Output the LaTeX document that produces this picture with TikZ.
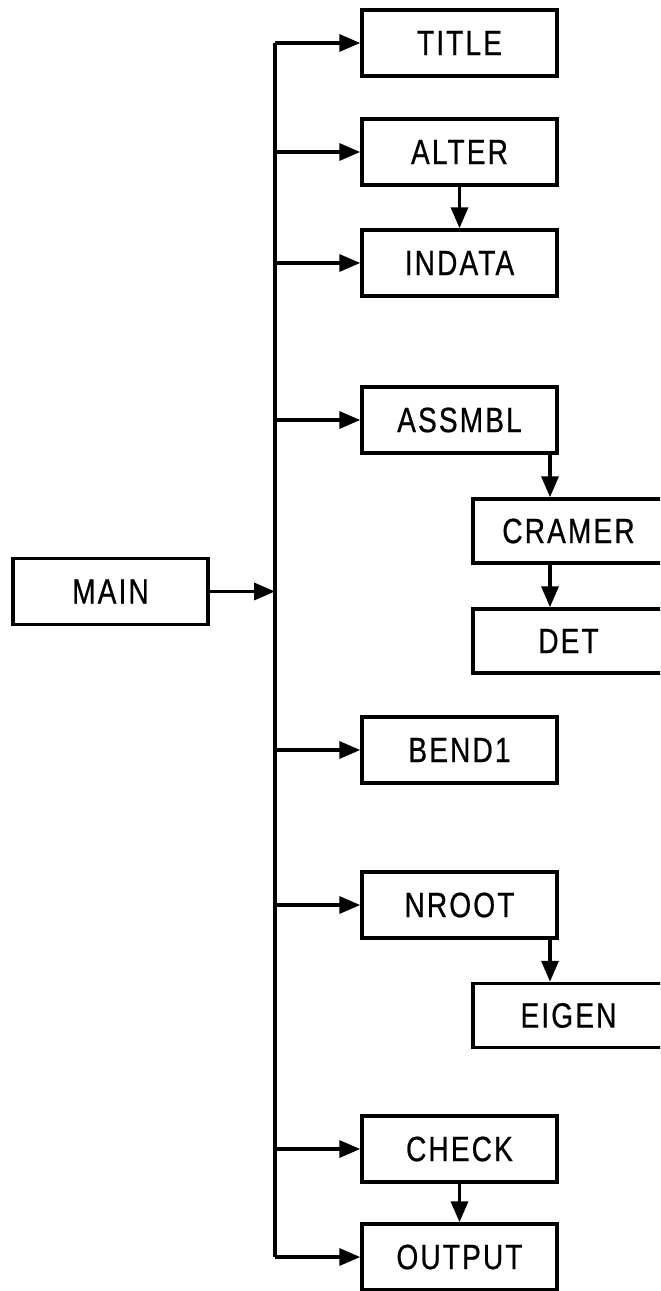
\documentclass[tikz,border=0pt]{standalone}
\usepackage{fontspec}
\usepackage{xcolor}
\usetikzlibrary{arrows.meta,positioning}
\newfontfamily\chartfont{Liberation Sans}[FakeStretch=0.8,LetterSpace=6,FakeBold=0.6]

\begin{document}
\begin{tikzpicture}[
    x=0.02cm, y=-0.02cm,
    font=\chartfont\fontsize{20pt}{22pt}\selectfont,
    routine/.style={
        rectangle,
        draw=black,
        line width=2pt,
        minimum width=3.9cm,
        minimum height=1.32cm,
        inner sep=0pt
    },
    subroutine/.style={routine, minimum width=3.82cm, minimum height=1.28cm},
    call/.style={-{Triangle[length=4.2mm,width=3.4mm]}, line width=2pt, draw=black}
]
\clip (0,0) rectangle (660,1291);

% =========================================================
% Routines
% =========================================================
\node[routine] (main) at (110.5,591.5) {MAIN};

\node[routine] (title)  at (459.5,43)   {TITLE};
\node[routine] (alter)  at (459.5,152)  {ALTER};
\node[routine] (indata) at (459.5,263)  {INDATA};
\node[routine] (assmbl) at (459.5,420)  {ASSMBL};
\node[routine] (bend)   at (459.5,750)  {BEND1};
\node[routine] (nroot)  at (459.5,905)  {NROOT};
\node[routine] (check)  at (459.5,1149) {CHECK};
\node[routine] (output) at (459.5,1257) {OUTPUT};

\node[subroutine] (cramer) at (568.5,531)    {CRAMER};
\node[subroutine] (det)    at (568.5,641)    {DET};
\node[subroutine] (eigen)  at (568.5,1015.5) {EIGEN};

% Trunk and drop line
\coordinate (trunk) at (275,0);
\coordinate (drop) at (550,0);

% =========================================================
% Calls
% =========================================================
\draw[line width=2pt] (trunk |- title.west) -- (trunk |- output.west);
\draw[call] (main.east) -- (trunk |- main.east);

\draw[call] (trunk |- title.west) -- (title.west);
\draw[call] (trunk |- alter.west) -- (alter.west);
\draw[call] (trunk |- indata.west) -- (indata.west);
\draw[call] (trunk |- assmbl.west) -- (assmbl.west);
\draw[call] (trunk |- bend.west) -- (bend.west);
\draw[call] (trunk |- nroot.west) -- (nroot.west);
\draw[call] (trunk |- check.west) -- (check.west);
\draw[call] (trunk |- output.west) -- (output.west);

% Nested calls
\draw[call] (alter) -- (indata);
\draw[call] (check) -- (output);
\draw[call] (assmbl.south -| drop) -- (cramer.north -| drop);
\draw[call] (cramer.south -| drop) -- (det.north -| drop);
\draw[call] (nroot.south -| drop) -- (eigen.north -| drop);

\end{tikzpicture}
\end{document}
